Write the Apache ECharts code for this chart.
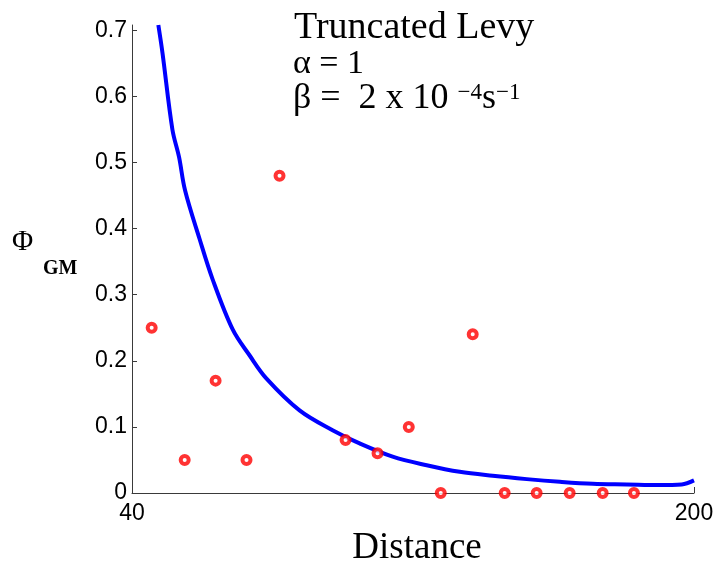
<!DOCTYPE html>
<html>
<head>
<meta charset="utf-8">
<script src="https://cdn.jsdelivr.net/npm/echarts@6/dist/echarts.min.js"></script>
<style>
  html, body { margin: 0; padding: 0; background: #fff; }
  #chart { width: 715px; height: 565px; }
</style>
</head>
<body>
<div id="chart"></div>
<script>
// Observed GM fractions by distance
const obsDistance = [45.6, 55.0, 63.8, 72.6, 82.0, 100.8, 109.9, 118.8, 127.9, 137.0, 146.1, 155.2, 164.6, 174.0, 182.9];
const obsPhi      = [0.25, 0.05, 0.17, 0.05, 0.48, 0.08, 0.06, 0.10, 0, 0.24, 0, 0, 0, 0, 0];

// Truncated Levy model curve
const fitDistance = [47.5, 48.7, 51.5, 53.4, 55.1, 59.2, 62.9, 68.7, 73.5, 78.3, 87.7, 97.1, 104.8, 114.2, 123.9, 133.3, 142.7, 152.4, 161.8, 171.2, 180.9, 190.0, 196.5, 200.0];
const fitPhi      = [0.708, 0.665, 0.55, 0.508, 0.458, 0.385, 0.324, 0.247, 0.208, 0.173, 0.125, 0.095, 0.075, 0.055, 0.042, 0.032, 0.026, 0.021, 0.017, 0.014, 0.013, 0.012, 0.013, 0.019];

// Tick labels
const xTicks = [40, 200];
const yTicks = [0, 0.1, 0.2, 0.3, 0.4, 0.5, 0.6, 0.7];

const serif = '"Liberation Serif", "DejaVu Serif", serif';
const sans = '"Liberation Sans", Arial, sans-serif';

const chart = echarts.init(document.getElementById('chart'), null, { renderer: 'canvas' });

chart.setOption({
  animation: false,
  backgroundColor: '#ffffff',
  grid: { left: 132, right: 21, top: 25, bottom: 72, containLabel: false, outerBoundsMode: 'none' },
  xAxis: {
    type: 'value',
    min: 40,
    max: 200,
    name: 'Distance',
    nameLocation: 'middle',
    nameGap: 30,
    nameTextStyle: { fontFamily: serif, fontSize: 37, color: '#000', padding: [0, 0, 0, 8] },
    axisLine: { show: true, lineStyle: { color: '#3a3a3a', width: 1 } },
    axisTick: { show: true, inside: true, length: 6, customValues: xTicks, lineStyle: { color: '#3a3a3a' } },
    axisLabel: { customValues: xTicks, margin: 9, fontFamily: sans, fontSize: 23, color: '#000' },
    splitLine: { show: false }
  },
  yAxis: {
    type: 'value',
    min: 0,
    max: 0.708,
    axisLine: { show: true, lineStyle: { color: '#3a3a3a', width: 1 } },
    axisTick: { show: true, inside: true, length: 5, customValues: yTicks, lineStyle: { color: '#3a3a3a' } },
    axisLabel: {
      customValues: yTicks, margin: 5, fontFamily: sans, fontSize: 23, color: '#000',
      formatter: v => (v === 0 ? '0' : v.toFixed(1))
    },
    splitLine: { show: false }
  },
  series: [
    {
      type: 'line',
      data: fitDistance.map((d, i) => [d, fitPhi[i]]),
      smooth: 0.35,
      showSymbol: false,
      clip: true,
      lineStyle: { color: '#0000ff', width: 4 },
      z: 2
    },
    {
      type: 'scatter',
      data: obsDistance.map((d, i) => [d, obsPhi[i]]),
      symbol: 'circle',
      symbolSize: 8,
      clip: false,
      itemStyle: { color: '#ffffff', borderColor: '#ff0000', borderWidth: 4 },
      z: 3
    }
  ],
  graphic: [
    {
      type: 'text', left: 294, top: 9,
      style: { text: 'Truncated Levy', font: '38px ' + serif, fill: '#000' }
    },
    {
      type: 'text', left: 293, top: 47,
      style: { text: 'α = 1', font: '34px ' + serif, fill: '#000' }
    },
    {
      type: 'text', left: 293, top: 81,
      style: {
        text: '{m|β =  2 x 10 }{s|−4}{m|s}{s|−1}',
        rich: {
          m: { fontFamily: serif, fontSize: 36, color: '#000', verticalAlign: 'bottom' },
          s: { fontFamily: serif, fontSize: 23, color: '#000', verticalAlign: 'top' }
        }
      }
    },
    {
      type: 'text', left: 12, top: 228,
      style: { text: 'Φ', font: '29px ' + serif, fill: '#000' }
    },
    {
      type: 'text', left: 43, top: 259,
      style: { text: 'GM', font: 'bold 20px ' + serif, fill: '#000' }
    }
  ]
});
</script>
</body>
</html>
